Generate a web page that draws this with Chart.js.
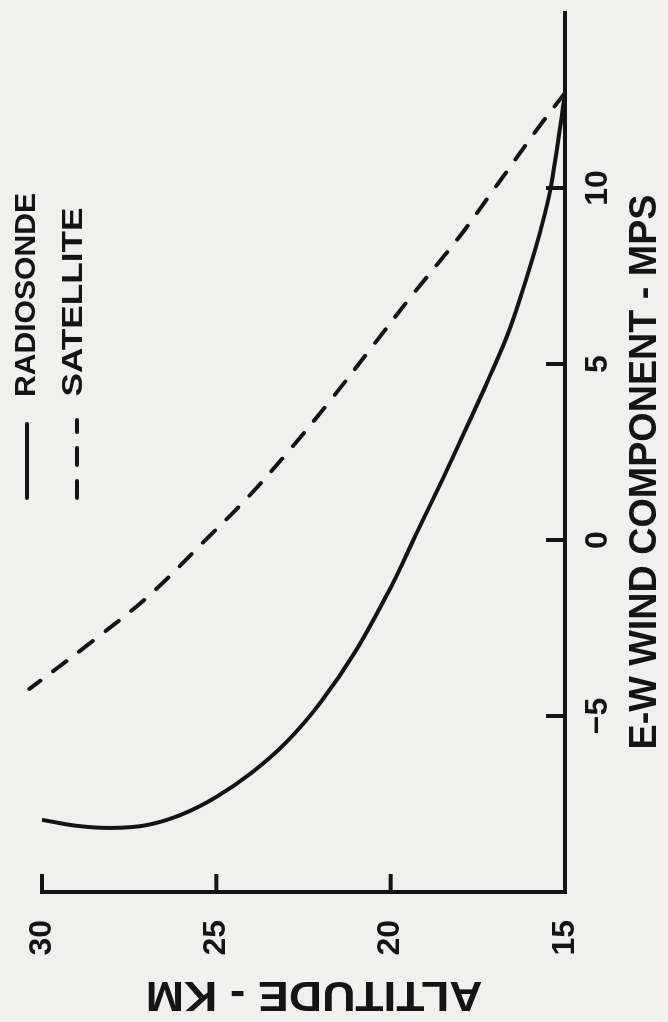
<!DOCTYPE html>
<html>
<head>
<meta charset="utf-8">
<script src="https://cdn.jsdelivr.net/npm/chart.js@4.4.1/dist/chart.umd.min.js"></script>
<style>
  html, body { margin: 0; padding: 0; background: #f0f0ee; overflow: hidden; }
  #wrap {
    position: absolute; left: 0; top: 0;
    width: 1022px; height: 668px;
    transform-origin: 0 0;
    transform: translate(0px, 1022px) rotate(-90deg);
  }
</style>
</head>
<body>
<div id="wrap"><canvas id="windChart" width="1022" height="668"></canvas></div>
<script>
// values (altitude in km, E-W wind in m/s)
const radiosondeAltKm = [15.0, 15.4, 15.7, 16.1, 16.6, 17.2, 17.8, 18.5, 19.3, 20, 21, 22, 23, 24, 25, 26, 27, 28, 29, 30];
const radiosondeWind = [12.7, 10.05, 8.8, 7.45, 5.95, 4.55, 3.25, 1.75, 0.1, -1.35, -3.15, -4.6, -5.75, -6.62, -7.3, -7.8, -8.1, -8.18, -8.12, -7.95];
const satelliteAltKm = [15.0, 15.67, 17.04, 18.01, 19.38, 20.54, 21.71, 22.87, 24.09, 25.4, 26.94, 28.65, 30.36];
const satelliteWind = [12.7, 11.84, 9.96, 8.64, 6.96, 5.48, 3.99, 2.59, 1.22, -0.09, -1.59, -2.95, -4.23];
const windTicks = [-5, 0, 5, 10];
const altTicks = [20, 25, 30];
const seriesNames = ['RADIOSONDE', 'SATELLITE'];
const windTitle = 'E-W WIND COMPONENT - MPS';
const altTitle = 'ALTITUDE - KM';

const ink = '#141414';
const family = '"Liberation Sans", Arial, sans-serif';
const dash = [17, 16];

function toPoints(alts, winds) {
  return alts.map((a, i) => ({ x: winds[i], y: a }));
}

function fittedText(ctx, text, cx, cy, width, size, rot) {
  ctx.save();
  ctx.translate(cx, cy);
  ctx.rotate(rot || 0);
  ctx.font = 'bold ' + size + 'px ' + family;
  const w = ctx.measureText(text).width;
  ctx.scale(width / w, 1);
  ctx.textAlign = 'center';
  ctx.textBaseline = 'middle';
  ctx.fillStyle = ink;
  ctx.fillText(text, 0, 0);
  ctx.restore();
}

// keep the plot box where the original has it
function fixBox(size, prop) {
  return s => {
    s[prop] = size;
    s.paddingTop = 0; s.paddingBottom = 0;
    s.paddingLeft = 0; s.paddingRight = 0;
  };
}

// inward tick marks, titles and the hand-placed legend
const decorations = {
  id: 'decorations',
  beforeDraw(chart) {
    const ctx = chart.ctx;
    ctx.save();
    ctx.fillStyle = '#f0f0ee';
    ctx.fillRect(0, 0, chart.width, chart.height);
    ctx.restore();
  },
  afterDraw(chart) {
    const { ctx, scales: { x, y } } = chart;
    ctx.save();
    ctx.strokeStyle = ink;
    ctx.lineWidth = 4;
    ctx.lineCap = 'butt';
    windTicks.forEach(v => {
      const px = x.getPixelForValue(v);
      ctx.beginPath(); ctx.moveTo(px, x.top); ctx.lineTo(px, x.top - 19); ctx.stroke();
    });
    altTicks.forEach(v => {
      const py = y.getPixelForValue(v);
      ctx.beginPath(); ctx.moveTo(y.right, py); ctx.lineTo(y.right + 18, py); ctx.stroke();
    });

    // legend
    ctx.lineCap = 'round';
    ctx.beginPath(); ctx.moveTo(524, 27); ctx.lineTo(598, 27); ctx.stroke();
    ctx.setLineDash(dash);
    ctx.beginPath(); ctx.moveTo(524, 77); ctx.lineTo(602, 77); ctx.stroke();
    ctx.setLineDash([]);
    ctx.restore();

    fittedText(ctx, seriesNames[0], 727, 27, 204, 30);
    fittedText(ctx, seriesNames[1], 720, 74, 189, 30);

    // axis titles
    fittedText(ctx, windTitle, 550, 646, 555, 38);
    fittedText(ctx, altTitle, 28, 314, 337, 42, -Math.PI / 2);
  }
};

new Chart(document.getElementById('windChart').getContext('2d'), {
  type: 'scatter',
  data: {
    datasets: [
      {
        label: seriesNames[0],
        data: toPoints(radiosondeAltKm, radiosondeWind),
        showLine: true,
        borderColor: ink,
        borderWidth: 4,
        pointRadius: 0,
        tension: 0.35,
        clip: false
      },
      {
        label: seriesNames[1],
        data: toPoints(satelliteAltKm, satelliteWind),
        showLine: true,
        borderColor: ink,
        borderWidth: 4,
        borderDash: dash,
        borderCapStyle: 'round',
        pointRadius: 0,
        tension: 0.35,
        clip: false
      }
    ]
  },
  options: {
    responsive: false,
    animation: false,
    devicePixelRatio: 1,
    layout: { padding: { top: 42, right: 12, left: 0, bottom: 0 } },
    plugins: { legend: { display: false }, tooltip: { enabled: false } },
    scales: {
      x: {
        type: 'linear',
        min: -10,
        max: 15,
        afterFit: fixBox(103, 'height'),
        ticks: {
          stepSize: 5,
          autoSkip: false,
          maxRotation: 0,
          padding: 14,
          color: ink,
          font: { family: family, size: 32, weight: 'bold' },
          callback: v => (windTicks.includes(v) ? String(v).replace('-', '\u2212') : '')
        },
        grid: { drawOnChartArea: false, drawTicks: false },
        border: { display: true, color: ink, width: 4 }
      },
      y: {
        type: 'linear',
        min: 15,
        max: 30,
        afterFit: fixBox(130, 'width'),
        ticks: {
          stepSize: 5,
          autoSkip: false,
          padding: 28,
          color: ink,
          font: { family: family, size: 32, weight: 'bold' }
        },
        grid: { drawOnChartArea: false, drawTicks: false },
        border: { display: true, color: ink, width: 4 }
      }
    }
  },
  plugins: [decorations]
});
</script>
</body>
</html>
